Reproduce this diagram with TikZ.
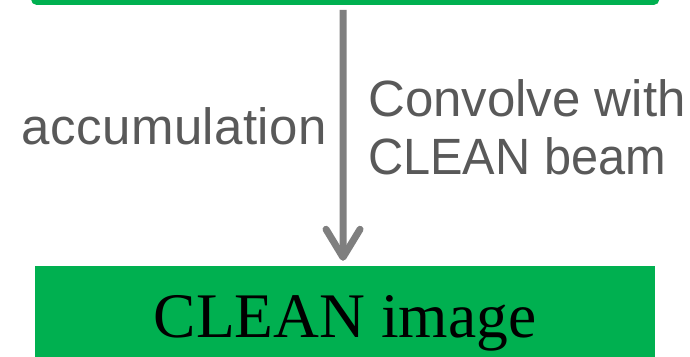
\documentclass[tikz,border=0pt]{standalone}
\usepackage{fontspec}
\setmainfont{Liberation Serif}
\newfontfamily\lblfont{Liberation Sans}
\newfontfamily\lblwide[LetterSpace=0.8]{Liberation Sans}
\newfontfamily\lblnarrow[FakeStretch=0.955]{Liberation Sans}
\usetikzlibrary{arrows.meta}
\definecolor{boxgreen}{RGB}{0,176,80}
\definecolor{lblgray}{RGB}{89,89,89}
\definecolor{arrgray}{RGB}{127,127,127}
\tikzset{
  greenbox/.style={fill=boxgreen, draw=none, inner sep=0pt},
  lbl/.style={inner sep=0pt, text=lblgray, font=\lblfont\fontsize{51}{58}\selectfont},
  flowarrow/.style={draw=arrgray, line width=7pt,
    -{Straight Barb[length=28pt, width=34pt, round]}}
}
\begin{document}
\begin{tikzpicture}[x=1pt,y=1pt]
\useasboundingbox (0,0) rectangle (690,356);
\clip (0,0) rectangle (690,356);
\node[greenbox, rounded corners=5pt, minimum width=628pt, minimum height=40pt, anchor=south west] (top) at (31,351) {};
\node[greenbox, minimum width=620pt, minimum height=112pt, text height=44pt, text depth=14pt,
      font=\fontsize{63.5}{70}\selectfont] (bottom) at (345,34) {CLEAN image};
\draw[flowarrow, shorten <=5pt, shorten >=5pt] ([xshift=-2pt]top.south) -- ([xshift=-2pt]bottom.north);
\node[lbl, anchor=base east] (acc) at (327,211) {\lblwide accumulation};
\node[lbl, anchor=base west, align=left] (conv) at (368,181) {Convolve with\\{\lblnarrow CLEAN beam}};
\end{tikzpicture}
\end{document}
